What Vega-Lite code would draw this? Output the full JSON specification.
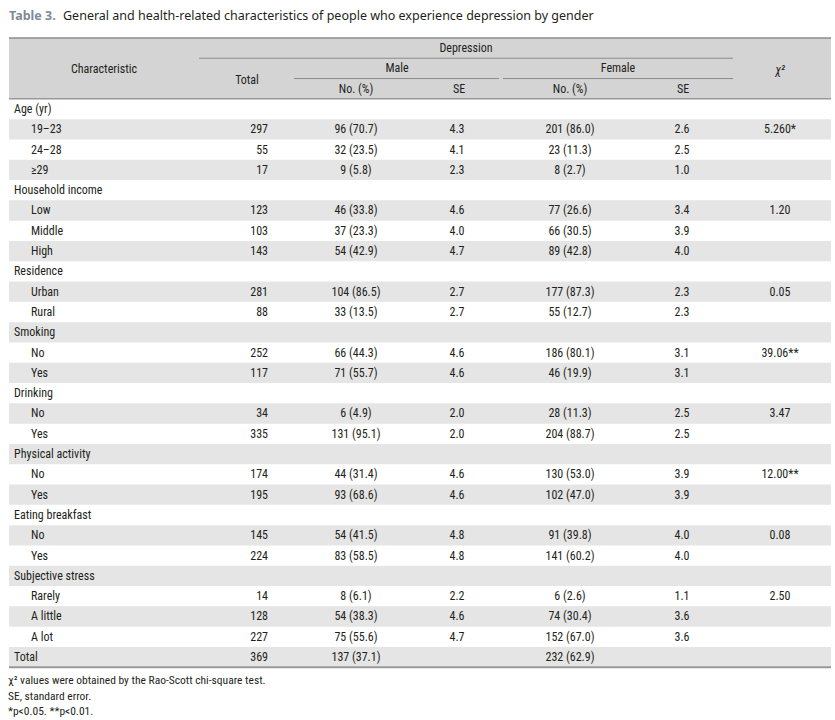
{
  "$schema": "https://vega.github.io/schema/vega-lite/v6.json",
  "width": 835,
  "height": 720,
  "padding": 0,
  "autosize": {"type": "none"},
  "background": "#ffffff",
  "config": {
    "view": {"stroke": null},
    "text": {"font": "Roboto Condensed, DejaVu Sans Condensed, Liberation Sans Narrow, Arial Narrow, sans-serif", "fontSize": 12, "color": "#231f20", "baseline": "middle"}
  },
  "datasets": {
    "rows": [
      {"r": 0, "label": "Age (yr)", "lvl": 0, "total": "", "mN": "", "mSE": "", "fN": "", "fSE": "", "chi": ""},
      {"r": 1, "label": "19–23", "lvl": 1, "total": "297", "mN": "96 (70.7)", "mSE": "4.3", "fN": "201 (86.0)", "fSE": "2.6", "chi": "5.260*"},
      {"r": 2, "label": "24–28", "lvl": 1, "total": "55", "mN": "32 (23.5)", "mSE": "4.1", "fN": "23 (11.3)", "fSE": "2.5", "chi": ""},
      {"r": 3, "label": "≥29", "lvl": 1, "total": "17", "mN": "9 (5.8)", "mSE": "2.3", "fN": "8 (2.7)", "fSE": "1.0", "chi": ""},
      {"r": 4, "label": "Household income", "lvl": 0, "total": "", "mN": "", "mSE": "", "fN": "", "fSE": "", "chi": ""},
      {"r": 5, "label": "Low", "lvl": 1, "total": "123", "mN": "46 (33.8)", "mSE": "4.6", "fN": "77 (26.6)", "fSE": "3.4", "chi": "1.20"},
      {"r": 6, "label": "Middle", "lvl": 1, "total": "103", "mN": "37 (23.3)", "mSE": "4.0", "fN": "66 (30.5)", "fSE": "3.9", "chi": ""},
      {"r": 7, "label": "High", "lvl": 1, "total": "143", "mN": "54 (42.9)", "mSE": "4.7", "fN": "89 (42.8)", "fSE": "4.0", "chi": ""},
      {"r": 8, "label": "Residence", "lvl": 0, "total": "", "mN": "", "mSE": "", "fN": "", "fSE": "", "chi": ""},
      {"r": 9, "label": "Urban", "lvl": 1, "total": "281", "mN": "104 (86.5)", "mSE": "2.7", "fN": "177 (87.3)", "fSE": "2.3", "chi": "0.05"},
      {"r": 10, "label": "Rural", "lvl": 1, "total": "88", "mN": "33 (13.5)", "mSE": "2.7", "fN": "55 (12.7)", "fSE": "2.3", "chi": ""},
      {"r": 11, "label": "Smoking", "lvl": 0, "total": "", "mN": "", "mSE": "", "fN": "", "fSE": "", "chi": ""},
      {"r": 12, "label": "No", "lvl": 1, "total": "252", "mN": "66 (44.3)", "mSE": "4.6", "fN": "186 (80.1)", "fSE": "3.1", "chi": "39.06**"},
      {"r": 13, "label": "Yes", "lvl": 1, "total": "117", "mN": "71 (55.7)", "mSE": "4.6", "fN": "46 (19.9)", "fSE": "3.1", "chi": ""},
      {"r": 14, "label": "Drinking", "lvl": 0, "total": "", "mN": "", "mSE": "", "fN": "", "fSE": "", "chi": ""},
      {"r": 15, "label": "No", "lvl": 1, "total": "34", "mN": "6 (4.9)", "mSE": "2.0", "fN": "28 (11.3)", "fSE": "2.5", "chi": "3.47"},
      {"r": 16, "label": "Yes", "lvl": 1, "total": "335", "mN": "131 (95.1)", "mSE": "2.0", "fN": "204 (88.7)", "fSE": "2.5", "chi": ""},
      {"r": 17, "label": "Physical activity", "lvl": 0, "total": "", "mN": "", "mSE": "", "fN": "", "fSE": "", "chi": ""},
      {"r": 18, "label": "No", "lvl": 1, "total": "174", "mN": "44 (31.4)", "mSE": "4.6", "fN": "130 (53.0)", "fSE": "3.9", "chi": "12.00**"},
      {"r": 19, "label": "Yes", "lvl": 1, "total": "195", "mN": "93 (68.6)", "mSE": "4.6", "fN": "102 (47.0)", "fSE": "3.9", "chi": ""},
      {"r": 20, "label": "Eating breakfast", "lvl": 0, "total": "", "mN": "", "mSE": "", "fN": "", "fSE": "", "chi": ""},
      {"r": 21, "label": "No", "lvl": 1, "total": "145", "mN": "54 (41.5)", "mSE": "4.8", "fN": "91 (39.8)", "fSE": "4.0", "chi": "0.08"},
      {"r": 22, "label": "Yes", "lvl": 1, "total": "224", "mN": "83 (58.5)", "mSE": "4.8", "fN": "141 (60.2)", "fSE": "4.0", "chi": ""},
      {"r": 23, "label": "Subjective stress", "lvl": 0, "total": "", "mN": "", "mSE": "", "fN": "", "fSE": "", "chi": ""},
      {"r": 24, "label": "Rarely", "lvl": 1, "total": "14", "mN": "8 (6.1)", "mSE": "2.2", "fN": "6 (2.6)", "fSE": "1.1", "chi": "2.50"},
      {"r": 25, "label": "A little", "lvl": 1, "total": "128", "mN": "54 (38.3)", "mSE": "4.6", "fN": "74 (30.4)", "fSE": "3.6", "chi": ""},
      {"r": 26, "label": "A lot", "lvl": 1, "total": "227", "mN": "75 (55.6)", "mSE": "4.7", "fN": "152 (67.0)", "fSE": "3.6", "chi": ""},
      {"r": 27, "label": "Total", "lvl": 0, "total": "369", "mN": "137 (37.1)", "mSE": "", "fN": "232 (62.9)", "fSE": "", "chi": ""}
    ]
  },
  "layer": [
    {
      "data": {"values": [{}]},
      "mark": {"type": "rule", "color": "#d4d4d4", "strokeWidth": 61, "strokeCap": "butt"},
      "encoding": {
        "x": {"datum": 9, "type": "quantitative", "scale": {"domain": [0, 835], "range": [0, 835], "nice": false, "zero": false}, "axis": null},
        "x2": {"datum": 831},
        "y": {"datum": -2, "type": "quantitative", "scale": {"domain": [-5.369, 30.099], "range": [0, 720], "nice": false, "zero": false}, "axis": null}
      }
    },
    {
      "data": {"name": "rows"},
      "transform": [{"filter": "datum.r % 2 == 1"}],
      "mark": {"type": "rule", "color": "#e5e5e5", "strokeWidth": 20.3, "strokeCap": "butt"},
      "encoding": {
        "x": {"datum": 9, "type": "quantitative", "scale": {"domain": [0, 835], "range": [0, 835], "nice": false, "zero": false}, "axis": null},
        "x2": {"datum": 831},
        "y": {"field": "r", "type": "quantitative", "scale": {"domain": [-5.369, 30.099], "range": [0, 720], "nice": false, "zero": false}, "axis": null}
      }
    },
    {
      "data": {"values": [{}]},
      "mark": {"type": "rule", "color": "#8c8c8c", "strokeWidth": 1.5},
      "encoding": {
        "x": {"datum": 9, "type": "quantitative", "scale": {"domain": [0, 835], "range": [0, 835], "nice": false, "zero": false}, "axis": null},
        "x2": {"datum": 831},
        "y": {"datum": -3.5, "type": "quantitative", "scale": {"domain": [-5.369, 30.099], "range": [0, 720], "nice": false, "zero": false}, "axis": null}
      }
    },
    {
      "data": {"values": [{}]},
      "mark": {"type": "rule", "color": "#8c8c8c", "strokeWidth": 1},
      "encoding": {
        "x": {"datum": 199, "type": "quantitative", "scale": {"domain": [0, 835], "range": [0, 835], "nice": false, "zero": false}, "axis": null},
        "x2": {"datum": 733},
        "y": {"datum": -2.5, "type": "quantitative", "scale": {"domain": [-5.369, 30.099], "range": [0, 720], "nice": false, "zero": false}, "axis": null}
      }
    },
    {
      "data": {"values": [{}]},
      "mark": {"type": "rule", "color": "#8c8c8c", "strokeWidth": 1},
      "encoding": {
        "x": {"datum": 294, "type": "quantitative", "scale": {"domain": [0, 835], "range": [0, 835], "nice": false, "zero": false}, "axis": null},
        "x2": {"datum": 499},
        "y": {"datum": -1.5, "type": "quantitative", "scale": {"domain": [-5.369, 30.099], "range": [0, 720], "nice": false, "zero": false}, "axis": null}
      }
    },
    {
      "data": {"values": [{}]},
      "mark": {"type": "rule", "color": "#8c8c8c", "strokeWidth": 1},
      "encoding": {
        "x": {"datum": 503, "type": "quantitative", "scale": {"domain": [0, 835], "range": [0, 835], "nice": false, "zero": false}, "axis": null},
        "x2": {"datum": 733},
        "y": {"datum": -1.5, "type": "quantitative", "scale": {"domain": [-5.369, 30.099], "range": [0, 720], "nice": false, "zero": false}, "axis": null}
      }
    },
    {
      "data": {"values": [{}]},
      "mark": {"type": "rule", "color": "#999999", "strokeWidth": 1.5},
      "encoding": {
        "x": {"datum": 9, "type": "quantitative", "scale": {"domain": [0, 835], "range": [0, 835], "nice": false, "zero": false}, "axis": null},
        "x2": {"datum": 831},
        "y": {"datum": -0.5, "type": "quantitative", "scale": {"domain": [-5.369, 30.099], "range": [0, 720], "nice": false, "zero": false}, "axis": null}
      }
    },
    {
      "data": {"values": [{}]},
      "mark": {"type": "rule", "color": "#999999", "strokeWidth": 2},
      "encoding": {
        "x": {"datum": 9, "type": "quantitative", "scale": {"domain": [0, 835], "range": [0, 835], "nice": false, "zero": false}, "axis": null},
        "x2": {"datum": 831},
        "y": {"datum": 27.5, "type": "quantitative", "scale": {"domain": [-5.369, 30.099], "range": [0, 720], "nice": false, "zero": false}, "axis": null}
      }
    },
    {
      "data": {"values": [{"t": "Table 3."}]},
      "mark": {"type": "text", "align": "left", "font": "Noto Sans", "fontSize": 12.5, "fontWeight": "bold", "color": "#7f8a96"},
      "encoding": {
        "text": {"field": "t"},
        "x": {"datum": 9, "type": "quantitative", "scale": {"domain": [0, 835], "range": [0, 835], "nice": false, "zero": false}, "axis": null},
        "y": {"datum": -4.6, "type": "quantitative", "scale": {"domain": [-5.369, 30.099], "range": [0, 720], "nice": false, "zero": false}, "axis": null}
      }
    },
    {
      "data": {"values": [{"t": "General and health-related characteristics of people who experience depression by gender"}]},
      "mark": {"type": "text", "align": "left", "font": "Noto Sans", "fontSize": 12.5, "color": "#231f20"},
      "encoding": {
        "text": {"field": "t"},
        "x": {"datum": 63, "type": "quantitative", "scale": {"domain": [0, 835], "range": [0, 835], "nice": false, "zero": false}, "axis": null},
        "y": {"datum": -4.6, "type": "quantitative", "scale": {"domain": [-5.369, 30.099], "range": [0, 720], "nice": false, "zero": false}, "axis": null}
      }
    },
    {
      "data": {"values": [{"t": "Characteristic"}]},
      "mark": {"type": "text", "align": "center"},
      "encoding": {
        "text": {"field": "t"},
        "x": {"datum": 104, "type": "quantitative", "scale": {"domain": [0, 835], "range": [0, 835], "nice": false, "zero": false}, "axis": null},
        "y": {"datum": -1.95, "type": "quantitative", "scale": {"domain": [-5.369, 30.099], "range": [0, 720], "nice": false, "zero": false}, "axis": null}
      }
    },
    {
      "data": {"values": [{"t": "Total"}]},
      "mark": {"type": "text", "align": "center"},
      "encoding": {
        "text": {"field": "t"},
        "x": {"datum": 247, "type": "quantitative", "scale": {"domain": [0, 835], "range": [0, 835], "nice": false, "zero": false}, "axis": null},
        "y": {"datum": -1.45, "type": "quantitative", "scale": {"domain": [-5.369, 30.099], "range": [0, 720], "nice": false, "zero": false}, "axis": null}
      }
    },
    {
      "data": {"values": [{"t": "Depression"}]},
      "mark": {"type": "text", "align": "center"},
      "encoding": {
        "text": {"field": "t"},
        "x": {"datum": 466, "type": "quantitative", "scale": {"domain": [0, 835], "range": [0, 835], "nice": false, "zero": false}, "axis": null},
        "y": {"datum": -3, "type": "quantitative", "scale": {"domain": [-5.369, 30.099], "range": [0, 720], "nice": false, "zero": false}, "axis": null}
      }
    },
    {
      "data": {"values": [{"t": "Male"}]},
      "mark": {"type": "text", "align": "center"},
      "encoding": {
        "text": {"field": "t"},
        "x": {"datum": 397, "type": "quantitative", "scale": {"domain": [0, 835], "range": [0, 835], "nice": false, "zero": false}, "axis": null},
        "y": {"datum": -2, "type": "quantitative", "scale": {"domain": [-5.369, 30.099], "range": [0, 720], "nice": false, "zero": false}, "axis": null}
      }
    },
    {
      "data": {"values": [{"t": "Female"}]},
      "mark": {"type": "text", "align": "center"},
      "encoding": {
        "text": {"field": "t"},
        "x": {"datum": 618, "type": "quantitative", "scale": {"domain": [0, 835], "range": [0, 835], "nice": false, "zero": false}, "axis": null},
        "y": {"datum": -2, "type": "quantitative", "scale": {"domain": [-5.369, 30.099], "range": [0, 720], "nice": false, "zero": false}, "axis": null}
      }
    },
    {
      "data": {"values": [{"t": "χ²"}]},
      "mark": {"type": "text", "align": "center", "fontStyle": "italic"},
      "encoding": {
        "text": {"field": "t"},
        "x": {"datum": 780, "type": "quantitative", "scale": {"domain": [0, 835], "range": [0, 835], "nice": false, "zero": false}, "axis": null},
        "y": {"datum": -1.9, "type": "quantitative", "scale": {"domain": [-5.369, 30.099], "range": [0, 720], "nice": false, "zero": false}, "axis": null}
      }
    },
    {
      "data": {"values": [{"t": "No. (%)"}]},
      "mark": {"type": "text", "align": "center"},
      "encoding": {
        "text": {"field": "t"},
        "x": {"datum": 356, "type": "quantitative", "scale": {"domain": [0, 835], "range": [0, 835], "nice": false, "zero": false}, "axis": null},
        "y": {"datum": -1, "type": "quantitative", "scale": {"domain": [-5.369, 30.099], "range": [0, 720], "nice": false, "zero": false}, "axis": null}
      }
    },
    {
      "data": {"values": [{"t": "SE"}]},
      "mark": {"type": "text", "align": "center"},
      "encoding": {
        "text": {"field": "t"},
        "x": {"datum": 459, "type": "quantitative", "scale": {"domain": [0, 835], "range": [0, 835], "nice": false, "zero": false}, "axis": null},
        "y": {"datum": -1, "type": "quantitative", "scale": {"domain": [-5.369, 30.099], "range": [0, 720], "nice": false, "zero": false}, "axis": null}
      }
    },
    {
      "data": {"values": [{"t": "No. (%)"}]},
      "mark": {"type": "text", "align": "center"},
      "encoding": {
        "text": {"field": "t"},
        "x": {"datum": 570, "type": "quantitative", "scale": {"domain": [0, 835], "range": [0, 835], "nice": false, "zero": false}, "axis": null},
        "y": {"datum": -1, "type": "quantitative", "scale": {"domain": [-5.369, 30.099], "range": [0, 720], "nice": false, "zero": false}, "axis": null}
      }
    },
    {
      "data": {"values": [{"t": "SE"}]},
      "mark": {"type": "text", "align": "center"},
      "encoding": {
        "text": {"field": "t"},
        "x": {"datum": 683, "type": "quantitative", "scale": {"domain": [0, 835], "range": [0, 835], "nice": false, "zero": false}, "axis": null},
        "y": {"datum": -1, "type": "quantitative", "scale": {"domain": [-5.369, 30.099], "range": [0, 720], "nice": false, "zero": false}, "axis": null}
      }
    },
    {
      "data": {"name": "rows"},
      "transform": [{"filter": "datum.lvl == 0"}],
      "mark": {"type": "text", "align": "left"},
      "encoding": {
        "text": {"field": "label"},
        "x": {"datum": 14, "type": "quantitative", "scale": {"domain": [0, 835], "range": [0, 835], "nice": false, "zero": false}, "axis": null},
        "y": {"field": "r", "type": "quantitative", "scale": {"domain": [-5.369, 30.099], "range": [0, 720], "nice": false, "zero": false}, "axis": null}
      }
    },
    {
      "data": {"name": "rows"},
      "transform": [{"filter": "datum.lvl == 1"}],
      "mark": {"type": "text", "align": "left"},
      "encoding": {
        "text": {"field": "label"},
        "x": {"datum": 31, "type": "quantitative", "scale": {"domain": [0, 835], "range": [0, 835], "nice": false, "zero": false}, "axis": null},
        "y": {"field": "r", "type": "quantitative", "scale": {"domain": [-5.369, 30.099], "range": [0, 720], "nice": false, "zero": false}, "axis": null}
      }
    },
    {
      "data": {"name": "rows"},
      "mark": {"type": "text", "align": "right"},
      "encoding": {
        "text": {"field": "total"},
        "x": {"datum": 268, "type": "quantitative", "scale": {"domain": [0, 835], "range": [0, 835], "nice": false, "zero": false}, "axis": null},
        "y": {"field": "r", "type": "quantitative", "scale": {"domain": [-5.369, 30.099], "range": [0, 720], "nice": false, "zero": false}, "axis": null}
      }
    },
    {
      "data": {"name": "rows"},
      "mark": {"type": "text", "align": "center"},
      "encoding": {
        "text": {"field": "mN"},
        "x": {"datum": 356, "type": "quantitative", "scale": {"domain": [0, 835], "range": [0, 835], "nice": false, "zero": false}, "axis": null},
        "y": {"field": "r", "type": "quantitative", "scale": {"domain": [-5.369, 30.099], "range": [0, 720], "nice": false, "zero": false}, "axis": null}
      }
    },
    {
      "data": {"name": "rows"},
      "mark": {"type": "text", "align": "center"},
      "encoding": {
        "text": {"field": "mSE"},
        "x": {"datum": 457, "type": "quantitative", "scale": {"domain": [0, 835], "range": [0, 835], "nice": false, "zero": false}, "axis": null},
        "y": {"field": "r", "type": "quantitative", "scale": {"domain": [-5.369, 30.099], "range": [0, 720], "nice": false, "zero": false}, "axis": null}
      }
    },
    {
      "data": {"name": "rows"},
      "mark": {"type": "text", "align": "center"},
      "encoding": {
        "text": {"field": "fN"},
        "x": {"datum": 570, "type": "quantitative", "scale": {"domain": [0, 835], "range": [0, 835], "nice": false, "zero": false}, "axis": null},
        "y": {"field": "r", "type": "quantitative", "scale": {"domain": [-5.369, 30.099], "range": [0, 720], "nice": false, "zero": false}, "axis": null}
      }
    },
    {
      "data": {"name": "rows"},
      "mark": {"type": "text", "align": "center"},
      "encoding": {
        "text": {"field": "fSE"},
        "x": {"datum": 682, "type": "quantitative", "scale": {"domain": [0, 835], "range": [0, 835], "nice": false, "zero": false}, "axis": null},
        "y": {"field": "r", "type": "quantitative", "scale": {"domain": [-5.369, 30.099], "range": [0, 720], "nice": false, "zero": false}, "axis": null}
      }
    },
    {
      "data": {"name": "rows"},
      "mark": {"type": "text", "align": "center"},
      "encoding": {
        "text": {"field": "chi"},
        "x": {"datum": 780, "type": "quantitative", "scale": {"domain": [0, 835], "range": [0, 835], "nice": false, "zero": false}, "axis": null},
        "y": {"field": "r", "type": "quantitative", "scale": {"domain": [-5.369, 30.099], "range": [0, 720], "nice": false, "zero": false}, "axis": null}
      }
    },
    {
      "data": {"values": [{"t": "χ² values were obtained by the Rao-Scott chi-square test."}]},
      "mark": {"type": "text", "align": "left", "fontSize": 11.5},
      "encoding": {
        "text": {"field": "t"},
        "x": {"datum": 8, "type": "quantitative", "scale": {"domain": [0, 835], "range": [0, 835], "nice": false, "zero": false}, "axis": null},
        "y": {"datum": 28.2, "type": "quantitative", "scale": {"domain": [-5.369, 30.099], "range": [0, 720], "nice": false, "zero": false}, "axis": null}
      }
    },
    {
      "data": {"values": [{"t": "SE, standard error."}]},
      "mark": {"type": "text", "align": "left", "fontSize": 11.5},
      "encoding": {
        "text": {"field": "t"},
        "x": {"datum": 8, "type": "quantitative", "scale": {"domain": [0, 835], "range": [0, 835], "nice": false, "zero": false}, "axis": null},
        "y": {"datum": 28.97, "type": "quantitative", "scale": {"domain": [-5.369, 30.099], "range": [0, 720], "nice": false, "zero": false}, "axis": null}
      }
    },
    {
      "data": {"values": [{"t": "*p<0.05. **p<0.01."}]},
      "mark": {"type": "text", "align": "left", "fontSize": 11.5},
      "encoding": {
        "text": {"field": "t"},
        "x": {"datum": 8, "type": "quantitative", "scale": {"domain": [0, 835], "range": [0, 835], "nice": false, "zero": false}, "axis": null},
        "y": {"datum": 29.7, "type": "quantitative", "scale": {"domain": [-5.369, 30.099], "range": [0, 720], "nice": false, "zero": false}, "axis": null}
      }
    }
  ]
}
